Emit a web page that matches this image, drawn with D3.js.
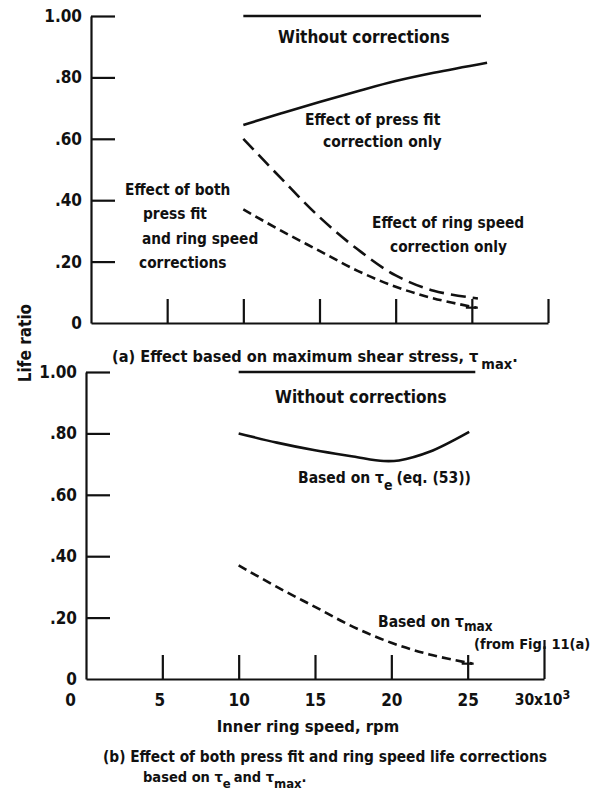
<!DOCTYPE html>
<html>
<head>
<meta charset="utf-8">
<script src="https://cdn.jsdelivr.net/npm/d3@7"></script>
<style>
  body { margin: 0; background: #fff; }
  svg text { font-family: "Liberation Sans Narrow", "DejaVu Sans Condensed", "Liberation Sans", sans-serif; font-weight: bold; fill: #111; }
</style>
</head>
<body>
<script>
// ---- data (speed in thousands of rpm, life ratio) ----
const noneSpeedA = [10, 25.6];
const noneLifeA = [1.0, 1.0];
const pressSpeed = [10, 12.5, 15, 17.5, 20, 22.5, 26];
const pressLife = [0.645, 0.683, 0.72, 0.755, 0.788, 0.815, 0.848];
const ringSpeed = [10, 12.5, 15, 17.5, 20, 22.5, 25.4];
const ringLife = [0.60, 0.47, 0.345, 0.24, 0.155, 0.105, 0.08];
const bothSpeed = [10, 12.5, 15, 17.5, 20, 22.5, 25.3];
const bothLife = [0.37, 0.30, 0.235, 0.17, 0.118, 0.08, 0.05];

const noneSpeedB = [10, 25.5];
const noneLifeB = [1.0, 1.0];
const teSpeed = [10, 12.5, 15, 17.5, 19.5, 20.5, 22.5, 25.1];
const teLife = [0.80, 0.77, 0.745, 0.725, 0.71, 0.712, 0.74, 0.805];

const yTicks = [0, 0.2, 0.4, 0.6, 0.8, 1.0];
const yTickLabels = ["0", ".20", ".40", ".60", ".80", "1.00"];
const xTicks = [0, 5, 10, 15, 20, 25];
const xTickLabels = ["0", "5", "10", "15", "20", "25"];
const xEnd = 30;

const zip = (xs, ys) => xs.map((x, i) => ({ x: x, y: ys[i] }));

const width = 601, height = 807;

const svg = d3.select("body").append("svg")
  .attr("width", width)
  .attr("height", height);

// scales for the two panels
const xTop = d3.scaleLinear().domain([0, 30]).range([91, 548]);
const yTop = d3.scaleLinear().domain([0, 1]).range([323, 16]);
const xBot = d3.scaleLinear().domain([0, 30]).range([86, 544]);
const yBot = d3.scaleLinear().domain([0, 1]).range([679, 372]);

function drawAxes(g, x, y, withXLabels) {
  const yAxis = d3.axisLeft(y)
    .tickValues(yTicks)
    .tickSize(-24)
    .tickSizeOuter(0)
    .tickPadding(9)
    .tickFormat((d, i) => yTickLabels[i]);
  const ya = g.append("g")
    .attr("transform", "translate(" + x(0) + ",0)")
    .call(yAxis);
  ya.select(".domain").attr("stroke", "#111").attr("stroke-width", 2.2);
  ya.selectAll(".tick line").attr("stroke", "#111").attr("stroke-width", 2.2);
  ya.selectAll(".tick text").attr("font-size", 17).attr("fill", "#111");
  ya.selectAll(".tick").filter(d => d === 0).select("line").remove();

  const xAxis = d3.axisBottom(x)
    .tickValues(xTicks.concat([xEnd]))
    .tickSize(-24)
    .tickSizeOuter(0)
    .tickPadding(15)
    .tickFormat((d, i) => withXLabels ? (d === xEnd ? "30x10" : xTickLabels[i]) : "");
  const xa = g.append("g")
    .attr("transform", "translate(0," + y(0) + ")")
    .call(xAxis);
  xa.select(".domain").attr("stroke", "#111").attr("stroke-width", 2.2);
  xa.selectAll(".tick line").attr("stroke", "#111").attr("stroke-width", 2.2);
  xa.selectAll(".tick").filter(d => d === 0).select("line").remove();
  xa.selectAll(".tick text").attr("font-size", 17).attr("fill", "#111");
  if (withXLabels) {
    xa.selectAll(".tick").filter(d => d === 0).select("text").attr("x", -16);
    xa.selectAll(".tick").filter(d => d === 5).select("text").attr("x", -3);
    xa.selectAll(".tick").filter(d => d === xEnd).select("line").attr("y2", -39);
    const t = xa.selectAll(".tick").filter(d => d === xEnd).select("text");
    t.attr("x", -2).attr("text-anchor", "middle").attr("font-size", 15.5);
    t.append("tspan").attr("dy", "-0.45em").attr("font-size", 12.5).text("3");
  }
  return xa;
}

const lineGen = (x, y) => d3.line()
  .x(d => x(d.x))
  .y(d => y(d.y))
  .curve(d3.curveCatmullRom.alpha(0.5));

function drawSeries(g, x, y, pts, dash) {
  g.append("path")
    .datum(pts)
    .attr("fill", "none")
    .attr("stroke", "#111")
    .attr("stroke-width", 2.6)
    .attr("stroke-dasharray", dash)
    .attr("d", lineGen(x, y));
}

function label(g, px, py, lines, size) {
  const t = g.append("text")
    .attr("x", px).attr("y", py)
    .attr("font-size", size || 16);
  lines.forEach(l => {
    t.append("tspan").attr("x", px + (l.dx || 0)).attr("dy", l.dy || 0).text(l.t);
  });
  return t;
}

// ---------------- panel (a) ----------------
const gA = svg.append("g");
drawAxes(gA, xTop, yTop, false);
drawSeries(gA, xTop, yTop, zip(noneSpeedA, noneLifeA), null);
drawSeries(gA, xTop, yTop, zip(pressSpeed, pressLife), null);
drawSeries(gA, xTop, yTop, zip(ringSpeed, ringLife), "15,7");
drawSeries(gA, xTop, yTop, zip(bothSpeed, bothLife), "9,5");
// small cross bar at end of combined curve
gA.append("line")
  .attr("x1", xTop(25) - 6).attr("x2", xTop(25) + 6)
  .attr("y1", yTop(bothLife[bothLife.length - 1])).attr("y2", yTop(bothLife[bothLife.length - 1]))
  .attr("stroke", "#111").attr("stroke-width", 2.2);

label(gA, 278, 43, [{ t: "Without corrections" }], 17);
label(gA, 305, 125, [{ t: "Effect of press fit" }, { t: "correction only", dx: 18, dy: 22 }], 15.5);
label(gA, 372, 228, [{ t: "Effect of ring speed" }, { t: "correction only", dx: 18, dy: 24 }], 15.3);
label(gA, 125, 195, [
  { t: "Effect of both" },
  { t: "press fit", dx: 18, dy: 24 },
  { t: "and ring speed", dx: 17, dy: 25 },
  { t: "corrections", dx: 14, dy: 24 }
], 15.3);

const capA = gA.append("text").attr("x", 112).attr("y", 362).attr("font-size", 16.2);
capA.append("tspan").text("(a) Effect based on maximum shear stress, \u03C4");
capA.append("tspan").attr("dx", 3).attr("dy", 7).attr("font-size", 14.5).text("max");
capA.append("tspan").attr("dy", -7).text(".");

// ---------------- panel (b) ----------------
const gB = svg.append("g");
drawAxes(gB, xBot, yBot, true);
drawSeries(gB, xBot, yBot, zip(noneSpeedB, noneLifeB), null);
drawSeries(gB, xBot, yBot, zip(teSpeed, teLife), null);
drawSeries(gB, xBot, yBot, zip(bothSpeed, bothLife), "9,5");
gB.append("line")
  .attr("x1", xBot(25) - 6).attr("x2", xBot(25) + 6)
  .attr("y1", yBot(bothLife[bothLife.length - 1])).attr("y2", yBot(bothLife[bothLife.length - 1]))
  .attr("stroke", "#111").attr("stroke-width", 2.2);

label(gB, 275, 403, [{ t: "Without corrections" }], 17);
const te = gB.append("text").attr("x", 298).attr("y", 483).attr("font-size", 15.5);
te.append("tspan").text("Based on \u03C4");
te.append("tspan").attr("dy", 7).attr("font-size", 14).text("e");
te.append("tspan").attr("dy", -7).attr("dx", 4).text("(eq. (53))");

const tm = gB.append("text").attr("x", 378).attr("y", 627).attr("font-size", 15.5);
tm.append("tspan").text("Based on \u03C4");
tm.append("tspan").attr("dy", 4).attr("font-size", 13.5).text("max");
label(gB, 474, 649, [{ t: "(from Fig. 11(a)" }], 14.5);

// y label
svg.append("text")
  .attr("transform", "translate(31,343) rotate(-90)")
  .attr("text-anchor", "middle")
  .attr("font-size", 17)
  .text("Life ratio");

// x label and caption
svg.append("text")
  .attr("x", 308).attr("y", 732)
  .attr("text-anchor", "middle")
  .attr("font-size", 16.5)
  .text("Inner ring speed, rpm");

const capB = svg.append("text").attr("x", 103).attr("y", 762).attr("font-size", 15.3);
capB.append("tspan").text("(b) Effect of both press fit and ring speed life corrections");
const capB2 = svg.append("text").attr("x", 143).attr("y", 782).attr("font-size", 14.5);
capB2.append("tspan").text("based on \u03C4");
capB2.append("tspan").attr("dy", 6).attr("font-size", 13).text("e");
capB2.append("tspan").attr("dy", -6).attr("dx", 3).text("and \u03C4");
capB2.append("tspan").attr("dy", 6).attr("font-size", 13).text("max");
capB2.append("tspan").attr("dy", -6).text(".");
</script>
</body>
</html>
